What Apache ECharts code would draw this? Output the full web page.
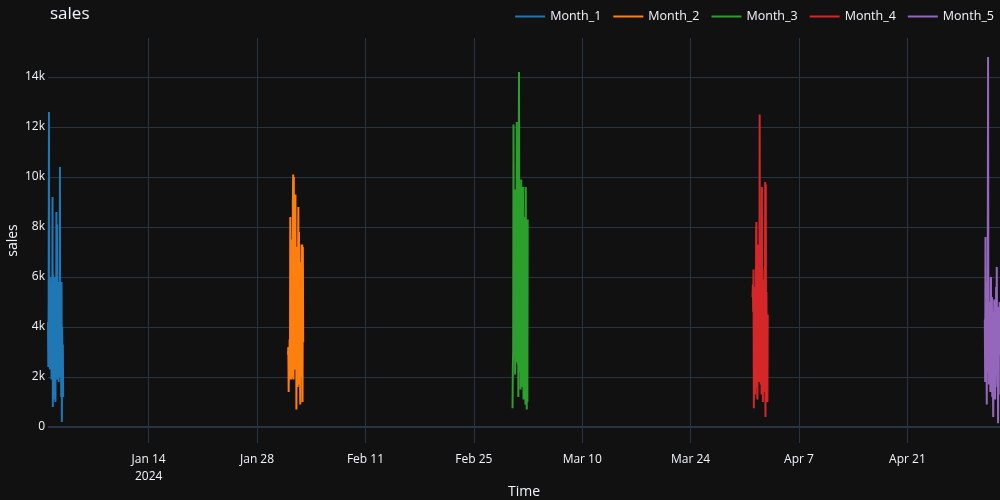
<!DOCTYPE html>
<html>
<head>
<meta charset="utf-8">
<script src="https://cdn.jsdelivr.net/npm/echarts@6/dist/echarts.min.js"></script>
<style>
  html, body { margin: 0; padding: 0; background: #111111; }
  #chart { width: 1000px; height: 500px; }
</style>
</head>
<body>
<div id="chart"></div>
<script>
// hourly sales, first two days of each month (2024)
var seriesNames = ['Month_1', 'Month_2', 'Month_3', 'Month_4', 'Month_5'];
var monthStarts = ['2024-01-01', '2024-02-01', '2024-03-01', '2024-04-01', '2024-05-01'];

var month1 = [4200, 2400, 5100, 12600, 3500, 4800, 2300, 6000, 3800, 2600, 5200, 1900,
  4400, 3100, 9200, 800, 6100, 2200, 5000, 1100, 4600, 3300, 6000, 1000,
  4100, 2800, 8600, 3500, 8100, 1900, 5600, 2500, 4900, 1800, 5800, 3000,
  6000, 10400, 2000, 5800, 3400, 1200, 5800, 200, 4000, 1200, 3300, 1200];
var month2 = [2900, 3200, 1400, 2800, 1900, 3500, 2100, 8400, 2600, 6200, 1900, 7500,
  2300, 5400, 2000, 9000, 10100, 1900, 10000, 3000, 7000, 2300, 6500, 9300,
  2500, 6000, 700, 5800, 2200, 7200, 1600, 6400, 8800, 2600, 7800, 1700,
  5200, 3100, 900, 6600, 2300, 5000, 7300, 2000, 7300, 1000, 7200, 3400];
var month3 = [750, 2400, 3100, 12100, 2800, 8000, 3300, 9500, 2100, 6800, 3200, 7400,
  2600, 12200, 3100, 9000, 2500, 6500, 1200, 8800, 14200, 3000, 9600, 2200,
  7000, 1500, 8500, 9900, 2800, 9500, 1600, 7900, 3000, 9600, 1100, 8200,
  2400, 6800, 1400, 8400, 900, 9600, 2100, 7600, 700, 8300, 1000, 8300];
var month4 = [5200, 5700, 4600, 6300, 750, 5000, 1600, 4400, 1300, 5600, 2200, 7800,
  8200, 1600, 6000, 1100, 4900, 2600, 7300, 1800, 5400, 2000, 12500, 2100,
  6800, 1700, 5200, 3500, 1300, 9600, 2700, 6300, 1000, 4700, 2900, 5900,
  1400, 4000, 2200, 9800, 400, 9700, 1200, 5400, 2500, 4300, 1000, 4500];
var month5 = [4300, 1800, 7600, 2600, 5800, 3500, 900, 4800, 2200, 6100, 14800, 3000,
  5000, 1700, 4300, 3200, 4700, 1400, 5900, 6000, 2400, 4900, 5200, 1200,
  4600, 2000, 400, 4500, 1800, 5100, 2600, 3900, 1100, 4200, 3000, 5600,
  2100, 6400, 3300, 1600, 4800, 150, 3700, 1300, 4500, 2900, 5000, 3800];
var allMonths = [month1, month2, month3, month4, month5];

var xTickDates = ['2024-01-14', '2024-01-28', '2024-02-11', '2024-02-25',
  '2024-03-10', '2024-03-24', '2024-04-07', '2024-04-21'];
var yTicks = [0, 2000, 4000, 6000, 8000, 10000, 12000, 14000];

var colors = ['#1f77b4', '#ff7f0e', '#2ca02c', '#d62728', '#9467bd'];
var monthAbbr = ['Jan', 'Feb', 'Mar', 'Apr', 'May', 'Jun', 'Jul', 'Aug', 'Sep', 'Oct', 'Nov', 'Dec'];
var HOUR = 3600 * 1000;

function toTime(s) {
  return new Date(s + 'T00:00:00Z').getTime();
}

var xTicks = xTickDates.map(toTime);

var series = seriesNames.map(function (name, k) {
  var t0 = toTime(monthStarts[k]);
  var s = {
    name: name,
    type: 'line',
    showSymbol: false,
    symbol: 'none',
    lineStyle: { width: 2, color: colors[k] },
    itemStyle: { color: colors[k] },
    data: allMonths[k].map(function (v, i) { return [t0 + i * HOUR, v]; })
  };
  if (k === 0) {
    // zero line
    s.markLine = {
      silent: true,
      symbol: 'none',
      label: { show: false },
      lineStyle: { color: '#283442', width: 2, type: 'solid' },
      data: [{ yAxis: 0 }]
    };
  }
  return s;
});

var lastSeries = allMonths[4];
var xMin = toTime(monthStarts[0]);
var xMax = toTime(monthStarts[4]) + (lastSeries.length - 1) * HOUR;

var chart = echarts.init(document.getElementById('chart'));
chart.setOption({
  backgroundColor: '#111111',
  animation: false,
  textStyle: { fontFamily: '"Open Sans", Verdana, Arial, sans-serif', color: '#f2f5fa' },
  title: {
    text: 'sales',
    left: 50,
    top: 6,
    padding: 0,
    textStyle: { color: '#f2f5fa', fontSize: 17, fontWeight: 'normal', fontFamily: '"Open Sans", Verdana, Arial, sans-serif' }
  },
  legend: {
    right: 6,
    top: 10,
    padding: 0,
    icon: 'rect',
    itemWidth: 30,
    itemHeight: 2,
    itemGap: 12,
    textStyle: { color: '#f2f5fa', fontSize: 12.5 },
    data: seriesNames
  },
  grid: { left: 48, right: 0, top: 38, bottom: 57, outerBoundsMode: 'none', containLabel: false },
  xAxis: {
    type: 'value',
    min: xMin,
    max: xMax,
    name: 'Time',
    nameLocation: 'middle',
    nameGap: 42,
    nameMoveOverlap: false,
    nameTextStyle: { color: '#f2f5fa', fontSize: 14 },
    axisLine: { show: false, onZero: false },
    axisTick: { show: false, customValues: xTicks },
    axisLabel: {
      customValues: xTicks,
      color: '#f2f5fa',
      fontSize: 12,
      margin: 8,
      lineHeight: 17,
      formatter: function (v) {
        var d = new Date(v);
        var txt = monthAbbr[d.getUTCMonth()] + ' ' + d.getUTCDate();
        if (v === xTicks[0]) txt += '\n' + d.getUTCFullYear();
        return txt;
      }
    },
    splitLine: { show: true, lineStyle: { color: '#283442', width: 1 } }
  },
  yAxis: {
    type: 'value',
    min: -640,
    max: 15560,
    name: 'sales',
    nameLocation: 'middle',
    nameGap: 28,
    nameMoveOverlap: false,
    nameTextStyle: { color: '#f2f5fa', fontSize: 14 },
    axisLine: { show: false },
    axisTick: { show: false, customValues: yTicks },
    axisLabel: {
      customValues: yTicks,
      color: '#f2f5fa',
      fontSize: 12,
      margin: 3,
      formatter: function (v) { return v === 0 ? '0' : (v / 1000) + 'k'; }
    },
    splitLine: { show: true, lineStyle: { color: '#283442', width: 1 } }
  },
  series: series
});
</script>
</body>
</html>
